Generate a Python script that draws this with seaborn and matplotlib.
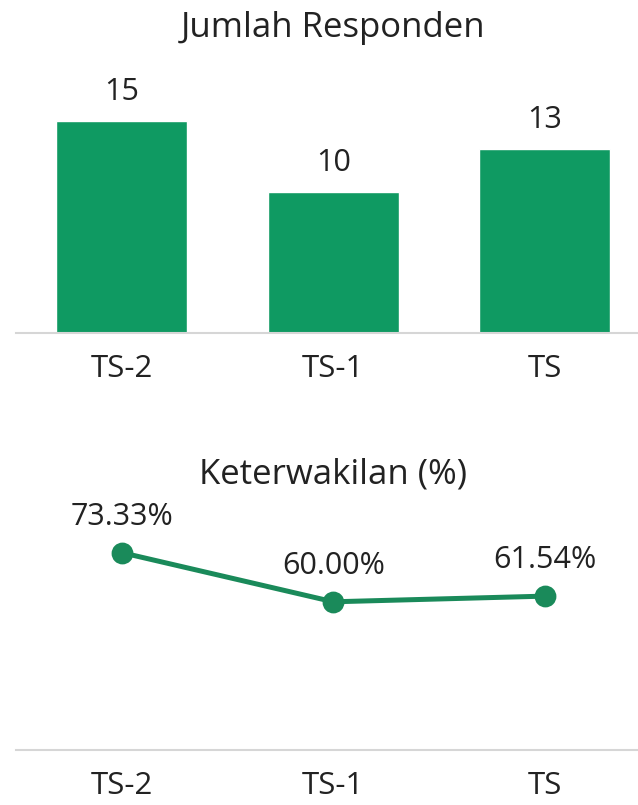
import seaborn as sns, matplotlib.pyplot as plt

periods = ["TS-2", "TS-1", "TS"]
responden = [15, 10, 13]
keterwakilan = [73.33, 60.00, 61.54]

GREEN = "#0f9a62"
LINE_GREEN = "#1a8a5a"
GRID = "#d6d6d6"
TXT = "#222222"

sns.set_style("white")
plt.rcParams["font.family"] = ["Open Sans", "DejaVu Sans"]

fig = plt.figure(figsize=(6.38, 8.05), dpi=100)
ax1 = fig.add_axes([0.025, 0.5863, 0.975, 0.327])
ax2 = fig.add_axes([0.025, 0.0683, 0.975, 0.311])

# top: jumlah responden
sns.barplot(x=periods, y=responden, color=GREEN, width=0.62, saturation=1, ax=ax1)
ax1.bar_label(ax1.containers[0], labels=[str(v) for v in responden], padding=10, fontsize=22, color=TXT)
ax1.set_ylim(0, 18.6)
ax1.set_xlim(-0.5, 2.44)

# bottom: keterwakilan
sns.pointplot(x=periods, y=keterwakilan, color=LINE_GREEN, markersize=13, linewidth=3.6, ax=ax2)
for i, v in enumerate(keterwakilan):
    ax2.annotate(f"{v:.2f}%", (i, v), xytext=(0, 36), textcoords="offset pixels",
                 ha="center", va="center", fontsize=22, color=TXT)
ax2.set_ylim(19.8, 87.7)
ax2.set_xlim(-0.5, 2.44)

for ax in (ax1, ax2):
    sns.despine(ax=ax, left=True)
    ax.spines["bottom"].set_color(GRID)
    ax.spines["bottom"].set_linewidth(1.5)
    ax.set_yticks([])
    ax.set_xlabel(""); ax.set_ylabel("")
    ax.tick_params(axis="x", length=0, labelsize=22.5, pad=15, labelcolor=TXT)

fig.text(0.522, 0.954, "Jumlah Responden", ha="center", va="baseline", fontsize=25, color=TXT)
fig.text(0.522, 0.400, "Keterwakilan (%)", ha="center", va="baseline", fontsize=25, color=TXT)

fig.savefig("out.png", dpi=100, facecolor="white")
